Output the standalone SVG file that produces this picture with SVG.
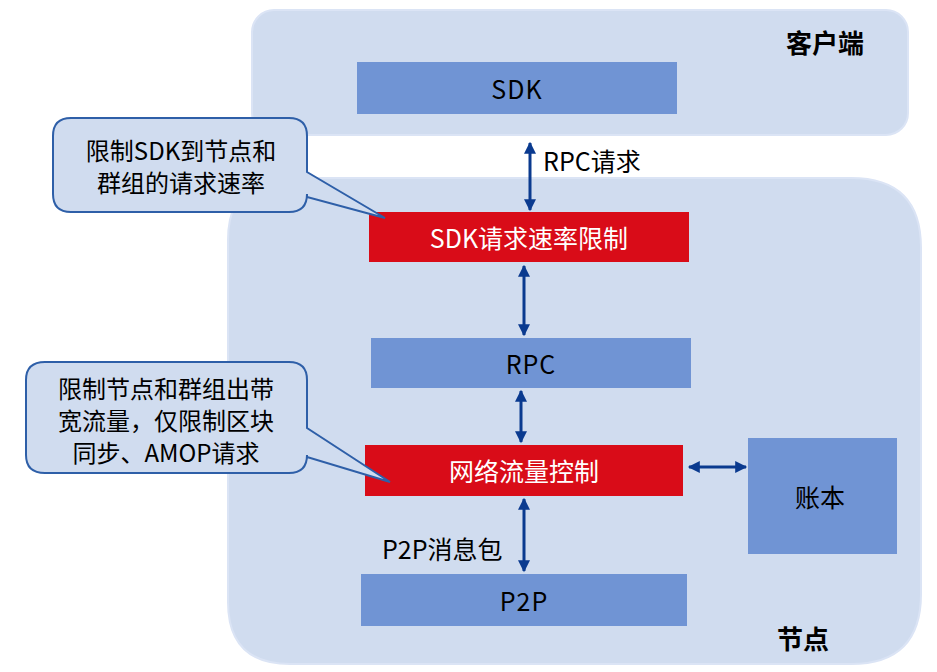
<svg xmlns="http://www.w3.org/2000/svg" width="937" height="672" viewBox="0 0 937 672">
<style>
text{font-family:"Noto Sans CJK SC","Microsoft YaHei",sans-serif;fill:#000;dominant-baseline:central}
.blue{fill:#7094d4}
.red{fill:#d90c18}
.cont{fill:#d0dcef;stroke:#dbe4f5;stroke-width:2}
.lbl{font-size:25px;text-anchor:middle}
.wl{fill:#fff}
.callout{fill:#d0dcef;stroke:#2e5fa8;stroke-width:2}
.ct{font-size:24px;text-anchor:middle}
.conn{stroke:#0a3a8f;stroke-width:3;fill:none;marker-start:url(#ah);marker-end:url(#ah)}
</style>
<defs>
<marker id="ah" viewBox="0 0 10 10" refX="9" refY="5" markerWidth="4.2" markerHeight="4" orient="auto-start-reverse" markerUnits="strokeWidth">
<path d="M0,0 L10,5 L0,10 z" fill="#0a3a8f"/>
</marker>
</defs>
<rect width="937" height="672" fill="#fff"/>
<g id="client">
<rect class="cont" x="252" y="10" width="656" height="125" rx="22"/>
<text x="825" y="41" font-size="26" font-weight="bold" text-anchor="middle">客户端</text>
</g>
<g id="node">
<path class="cont" d="M290,178 H851 Q921,178 921,248 V594 Q921,664 851,664 H290 Q228,664 228,602 V240 Q228,178 290,178 Z"/>
<text x="803" y="637" font-size="26" font-weight="bold" text-anchor="middle">节点</text>
</g>
<g id="sdk">
<rect class="blue" x="357" y="62" width="320" height="52"/>
<text class="lbl" x="517" y="88" letter-spacing="1">SDK</text>
</g>
<g id="sdk-rate">
<rect class="red" x="369" y="212" width="320" height="50"/>
<text class="lbl wl" x="529" y="237">SDK请求速率限制</text>
</g>
<g id="rpc">
<rect class="blue" x="371" y="338" width="320" height="50"/>
<text class="lbl" x="531" y="363" letter-spacing="1">RPC</text>
</g>
<g id="net-ctrl">
<rect class="red" x="365" y="445" width="318" height="51"/>
<text class="lbl wl" x="524" y="470">网络流量控制</text>
</g>
<g id="p2p">
<rect class="blue" x="361" y="574" width="326" height="52"/>
<text class="lbl" x="524" y="600" letter-spacing="1">P2P</text>
</g>
<g id="ledger">
<rect class="blue" x="748" y="438" width="149" height="116"/>
<text class="lbl" x="820" y="496" font-size="26">账本</text>
</g>
<g id="callout1">
<path class="callout" d="M71,118 H289 Q307,118 307,136 V172 L385,218 L307,197 V194 Q307,212 289,212 H71 Q53,212 53,194 V136 Q53,118 71,118 Z"/>
<text class="ct" x="181" y="149">限制SDK到节点和</text>
<text class="ct" x="181" y="181">群组的请求速率</text>
</g>
<g id="callout2">
<path class="callout" d="M45,362 H289 Q307,362 307,380 V428 L390,482 L307,457 V455 Q307,473 289,473 H45 Q26,473 26,455 V380 Q26,362 45,362 Z"/>
<text class="ct" x="166" y="387">限制节点和群组出带</text>
<text class="ct" x="166" y="419">宽流量，仅限制区块</text>
<text class="ct" x="166" y="451">同步、AMOP请求</text>
</g>
<g id="connectors">
<line class="conn" x1="530" y1="143" x2="530" y2="210"/>
<line class="conn" x1="524" y1="266" x2="524" y2="335"/>
<line class="conn" x1="521" y1="391" x2="521" y2="442"/>
<line class="conn" x1="524" y1="499" x2="524" y2="571"/>
<line class="conn" x1="689" y1="467" x2="746" y2="467"/>
<text x="543" y="160" font-size="25">RPC请求</text>
<text x="382" y="548" font-size="25">P2P消息包</text>
</g>
</svg>
